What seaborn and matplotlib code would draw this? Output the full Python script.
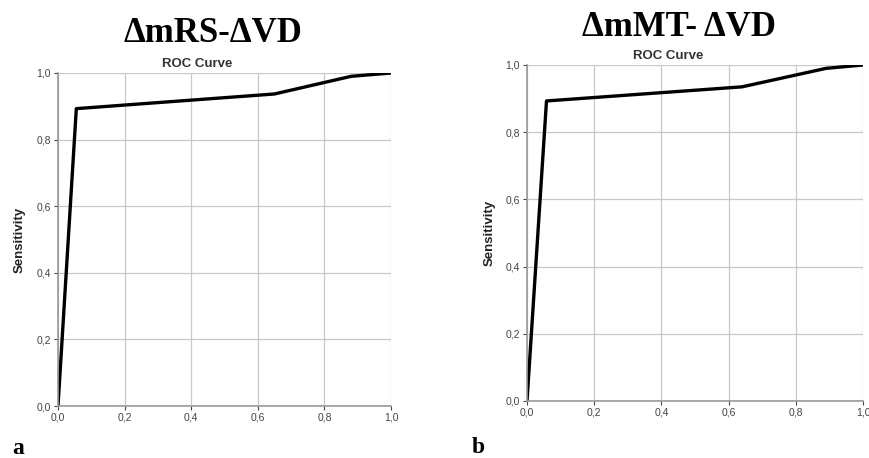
import pandas as pd
import seaborn as sns
import matplotlib.pyplot as plt
from matplotlib.ticker import FuncFormatter

# ROC points
fpr_a = [0.0, 0.055, 0.65, 0.88, 1.0]
tpr_a = [0.0, 0.893, 0.937, 0.99, 1.0]
fpr_b = [0.0, 0.058, 0.64, 0.89, 1.0]
tpr_b = [0.0, 0.893, 0.935, 0.99, 1.0]

titles = ["\u0394mRS-\u0394VD", "\u0394mMT- \u0394VD"]
panel_labels = ["a", "b"]
ticks = [0.0, 0.2, 0.4, 0.6, 0.8, 1.0]

sns.set_theme(style="white")
plt.rcParams["font.family"] = ["Liberation Sans", "DejaVu Sans"]

fig = plt.figure(figsize=(8.7, 4.58), dpi=100)
positions = [
    [58 / 870, 1 - 406 / 458, 333 / 870, 333 / 458],
    [527 / 870, 1 - 401 / 458, 336 / 870, 336 / 458],
]
# text anchors (pixel coords, baseline)
title_xy = [(213, 42), (679, 36)]
roc_xy = [(197, 67), (668, 59)]
label_xy = [(12, 454), (472, 453)]
ylab_x = [20, 490]

comma = FuncFormatter(lambda v, p: f"{v:.1f}".replace(".", ","))

for i, (fx, ty) in enumerate([(fpr_a, tpr_a), (fpr_b, tpr_b)]):
    ax = fig.add_axes(positions[i])
    df = pd.DataFrame({"fpr": fx, "tpr": ty})
    sns.lineplot(data=df, x="fpr", y="tpr", ax=ax, color="black",
                 linewidth=2.4, sort=False)
    ax.set_xlim(0, 1)
    ax.set_ylim(0, 1)
    ax.set_xticks(ticks)
    ax.set_yticks(ticks)
    ax.xaxis.set_major_formatter(comma)
    ax.yaxis.set_major_formatter(comma)
    ax.grid(True, color="#c8c8c8", linewidth=0.9)
    ax.set_axisbelow(True)
    for s in ["top", "right"]:
        ax.spines[s].set_visible(False)
    for s in ["left", "bottom"]:
        ax.spines[s].set_color("#999999")
        ax.spines[s].set_linewidth(1.2)
    ax.tick_params(axis="both", labelsize=7.5, colors="#444444", length=3,
                   width=0.8, pad=2, left=True, bottom=True)
    ax.set_xlabel("")
    ax.set_ylabel("")

    fig.text(title_xy[i][0] / 870, 1 - title_xy[i][1] / 458, titles[i],
             ha="center", va="baseline", fontsize=25, fontweight="bold",
             color="black", family=["Liberation Serif", "DejaVu Serif"])
    fig.text(roc_xy[i][0] / 870, 1 - roc_xy[i][1] / 458, "ROC Curve",
             ha="center", va="baseline", fontsize=9.5, fontweight="bold",
             color="#333333")
    fig.text(ylab_x[i] / 870, positions[i][1] + positions[i][3] / 2,
             "Sensitivity", rotation=90, ha="center", va="center",
             fontsize=9.5, fontweight="bold", color="#222222")
    fig.text(label_xy[i][0] / 870, 1 - label_xy[i][1] / 458, panel_labels[i],
             ha="left", va="baseline", fontsize=17, fontweight="bold",
             color="black", family=["Liberation Serif", "DejaVu Serif"])

plt.savefig("out.png", dpi=100)
